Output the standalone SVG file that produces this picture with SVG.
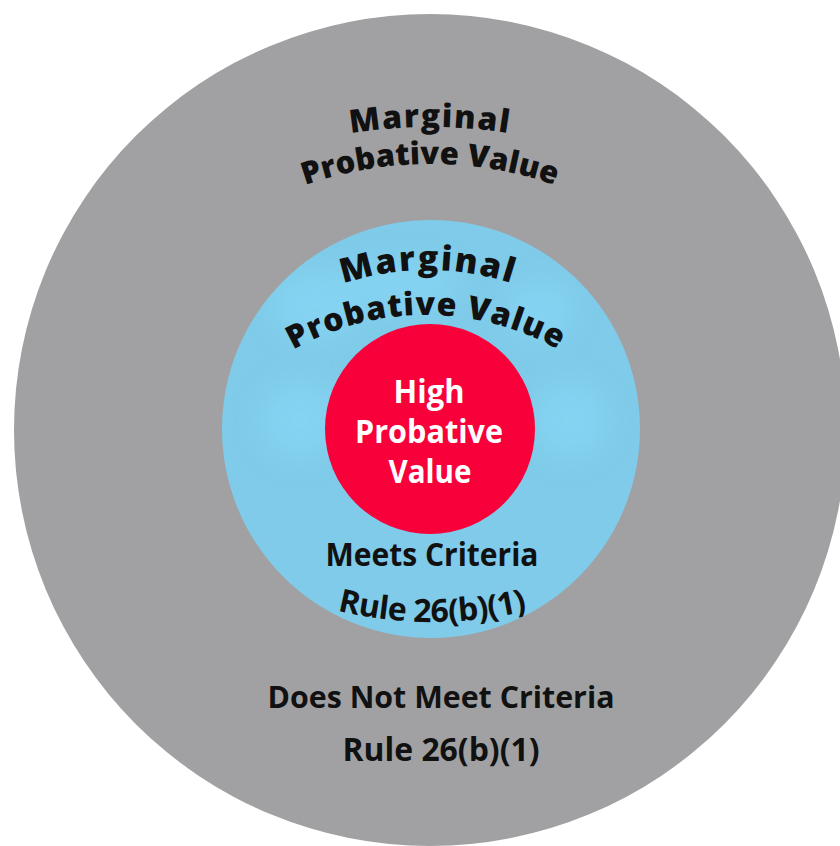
<svg xmlns="http://www.w3.org/2000/svg" width="840" height="846" viewBox="0 0 840 846">
  <style>
    .arc-label { font-family: "Open Sans", "Noto Sans", sans-serif; font-weight: 800; fill: #111; }
    .label { font-family: "Open Sans", "Noto Sans", sans-serif; font-weight: 700; fill: #111; }
    .core-label { font-family: "Open Sans", "Noto Sans", sans-serif; font-weight: 700; fill: #ffffff; font-size: 33px; }
  </style>
  <defs>
    <!-- baselines for the curved labels -->
    <path id="arcOuterTop" d="M180,194 A500,500 0 0 1 680,194"/>
    <path id="arcOuterBottom" d="M180,257.8 A380,380 0 0 1 680,257.8"/>
    <path id="arcMidTop" d="M228,358.6 A270,270 0 0 1 628,358.6"/>
    <path id="arcMidBottom" d="M226,403.6 A270,270 0 0 1 626,403.6"/>
    <path id="arcMidRule" d="M232,568.4 A400,400 0 0 0 632,568.4"/>
    <clipPath id="midClip">
      <circle cx="431" cy="429" r="209"/>
    </clipPath>
    <filter id="soft" x="-50%" y="-50%" width="200%" height="200%">
      <feGaussianBlur stdDeviation="14"/>
    </filter>
  </defs>

  <rect width="840" height="846" fill="#ffffff"/>

  <!-- outer ring: does not meet criteria -->
  <g id="ring-outer">
    <circle cx="430" cy="430" r="416" fill="#a1a1a3"/>
    <text class="arc-label" font-size="32" letter-spacing="1.5"><textPath href="#arcOuterTop" startOffset="50%" text-anchor="middle">Marginal</textPath></text>
    <text class="arc-label" font-size="31" letter-spacing="0"><textPath href="#arcOuterBottom" startOffset="50%" text-anchor="middle">Probative Value</textPath></text>
    <text class="label" x="441" y="708" font-size="31" text-anchor="middle" textLength="347" lengthAdjust="spacingAndGlyphs">Does Not Meet Criteria</text>
    <text class="label" x="441" y="761" font-size="32" text-anchor="middle" textLength="197" lengthAdjust="spacingAndGlyphs">Rule 26(b)(1)</text>
  </g>

  <!-- middle ring: meets criteria -->
  <g id="ring-middle">
    <circle cx="431" cy="429" r="209" fill="#7fcbe9"/>
    <g clip-path="url(#midClip)" filter="url(#soft)" fill="#87d5f5" opacity="0.75">
      <ellipse cx="315" cy="305" rx="45" ry="35"/>
      <ellipse cx="400" cy="285" rx="60" ry="25"/>
      <ellipse cx="300" cy="420" rx="40" ry="40"/>
      <ellipse cx="570" cy="420" rx="38" ry="40"/>
      <ellipse cx="540" cy="310" rx="35" ry="30"/>
    </g>
    <text class="arc-label" font-size="34" letter-spacing="2"><textPath href="#arcMidTop" startOffset="50%" text-anchor="middle">Marginal</textPath></text>
    <text class="arc-label" font-size="32" letter-spacing="1"><textPath href="#arcMidBottom" startOffset="50%" text-anchor="middle">Probative Value</textPath></text>
    <text class="label" x="432" y="566" font-size="33" text-anchor="middle" textLength="213" lengthAdjust="spacingAndGlyphs">Meets Criteria</text>
    <text class="label" font-size="32" letter-spacing="-0.5"><textPath href="#arcMidRule" startOffset="50%" text-anchor="middle">Rule 26(b)(1)</textPath></text>
  </g>

  <!-- core: high probative value -->
  <g id="core">
    <circle cx="430" cy="429" r="105" fill="#f8003a"/>
    <text class="core-label" x="429" y="403" text-anchor="middle" textLength="71" lengthAdjust="spacingAndGlyphs">High</text>
    <text class="core-label" x="429" y="443" text-anchor="middle" textLength="148" lengthAdjust="spacingAndGlyphs">Probative</text>
    <text class="core-label" x="430" y="483" text-anchor="middle" textLength="83" lengthAdjust="spacingAndGlyphs">Value</text>
  </g>
</svg>
